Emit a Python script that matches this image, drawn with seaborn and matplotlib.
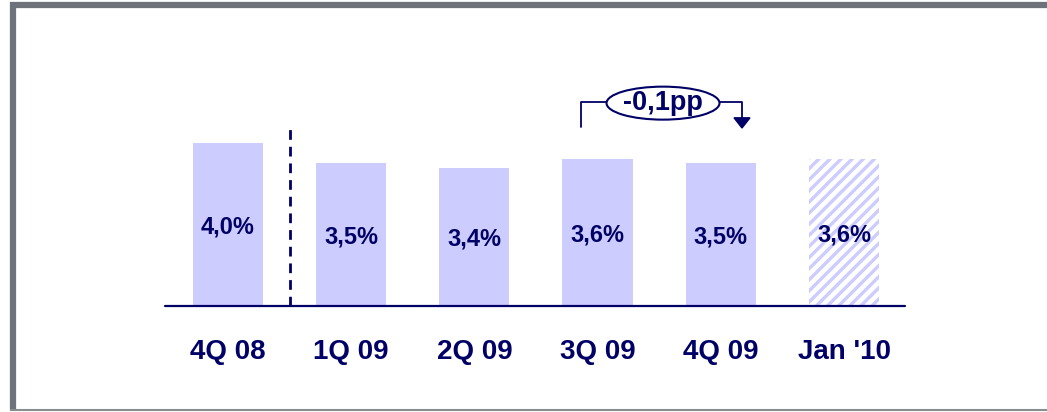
import matplotlib
matplotlib.use("Agg")
import matplotlib.pyplot as plt
import matplotlib.patches as mpatches
from matplotlib.lines import Line2D
import pandas as pd
import seaborn as sns

# ── Data ────────────────────────────────────────────────────────────────
periods = ["4Q 08", "1Q 09", "2Q 09", "3Q 09", "4Q 09", "Jan '10"]
rates = [4.0, 3.5, 3.4, 3.6, 3.5, 3.6]
rate_labels = ["4,0%", "3,5%", "3,4%", "3,6%", "3,5%", "3,6%"]
change_label = "-0,1pp"

NAVY = "#000066"
LILAC = "#ccccff"
FRAME = "#6e7379"

sns.set_theme(style="white")
plt.rcParams["font.family"] = ["Liberation Sans", "DejaVu Sans"]
plt.rcParams["hatch.linewidth"] = 2.4

df = pd.DataFrame({"period": periods, "rate": rates})

fig = plt.figure(figsize=(10.47, 4.12), dpi=100)
ax = fig.add_axes([165 / 1047, 106 / 412, 740 / 1047, 266 / 412])

sns.barplot(data=df, x="period", y="rate", color=LILAC, saturation=1,
            width=0.57, ax=ax, linewidth=0)

# last bar is a forecast: hatched
last = ax.patches[-1]
last.set_facecolor("white")
last.set_edgecolor(LILAC)
last.set_hatch("///")
last.set_linewidth(0)

for i, (v, lab) in enumerate(zip(rates, rate_labels)):
    ax.text(i, v / 2 - 0.05, lab, ha="center", va="center", fontsize=17,
            fontweight="bold", color=NAVY)

ax.set_xlim(-0.511, 5.495)
ax.set_ylim(0, 6.53)
ax.axhline(0, color=NAVY, lw=1.6, zorder=5, clip_on=False)
ax.vlines(0.5, 0, 4.35, colors=NAVY, linestyles=(0, (3.5, 2.5)), lw=2)

# change annotation between 3Q 09 and 4Q 09
ax.plot([2.865, 2.865, 3.07], [4.39, 5.0, 5.0], color=NAVY, lw=1.3)
ax.plot([3.99, 4.172, 4.172], [5.0, 5.0, 4.6], color=NAVY, lw=1.3)
ax.add_patch(mpatches.Polygon([[4.107, 4.62], [4.237, 4.62], [4.172, 4.37]],
                              closed=True, color=NAVY))
ax.add_patch(mpatches.Ellipse((3.531, 4.98), 0.917, 0.81, facecolor="white",
                              edgecolor=NAVY, lw=1.5, zorder=4))
ax.text(3.531, 4.98, change_label, ha="center", va="center", fontsize=19.5,
        fontweight="bold", color=NAVY, zorder=6)

ax.set_xlabel("")
ax.set_ylabel("")
ax.set_yticks([])
ax.tick_params(axis="x", length=0, pad=24)
for t in ax.get_xticklabels():
    t.set_fontsize(20)
    t.set_fontweight("bold")
    t.set_color(NAVY)
sns.despine(ax=ax, left=True, bottom=True)

# outer frame
fig.add_artist(Line2D([10 / 1047, 1], [1 - 5 / 412, 1 - 5 / 412],
                      transform=fig.transFigure, color=FRAME, lw=4.5,
                      solid_capstyle="butt"))
fig.add_artist(Line2D([13 / 1047, 13 / 1047], [1 - 2 / 412, 2 / 412],
                      transform=fig.transFigure, color=FRAME, lw=4.5,
                      solid_capstyle="butt"))
fig.add_artist(Line2D([10 / 1047, 1], [2 / 412, 2 / 412],
                      transform=fig.transFigure, color="#8a8d90", lw=1.5,
                      solid_capstyle="butt"))

fig.savefig("out.png", dpi=100)
